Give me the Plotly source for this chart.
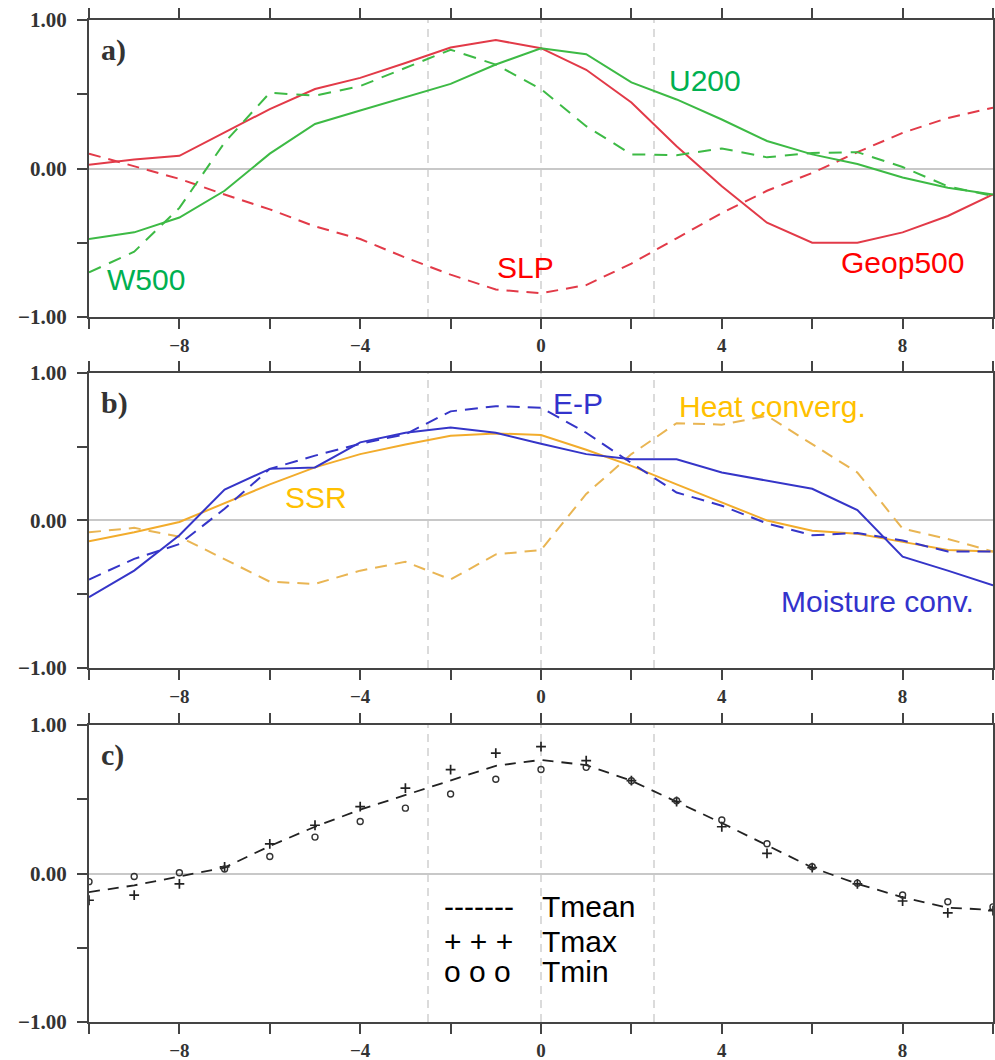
import plotly.graph_objects as go
from plotly.subplots import make_subplots

days = list(range(-10, 11))

# Panel a
geop500 = [0.025, 0.06, 0.085, 0.245, 0.40, 0.535, 0.61, 0.71, 0.815, 0.865, 0.81,
           0.665, 0.445, 0.15, -0.12, -0.365, -0.50, -0.50, -0.43, -0.32, -0.175]
slp = [0.10, 0.015, -0.07, -0.175, -0.275, -0.39, -0.475, -0.60, -0.715, -0.815, -0.84,
       -0.785, -0.64, -0.47, -0.30, -0.15, -0.03, 0.11, 0.24, 0.34, 0.41]
u200 = [-0.475, -0.43, -0.33, -0.15, 0.10, 0.30, 0.39, 0.48, 0.57, 0.70, 0.81,
        0.77, 0.58, 0.465, 0.33, 0.185, 0.095, 0.03, -0.06, -0.13, -0.175]
w500 = [-0.70, -0.56, -0.265, 0.175, 0.51, 0.49, 0.555, 0.68, 0.80, 0.70, 0.535,
        0.285, 0.095, 0.09, 0.135, 0.075, 0.105, 0.11, 0.01, -0.12, -0.185]

# Panel b
moist_conv = [-0.52, -0.34, -0.10, 0.21, 0.35, 0.36, 0.53, 0.595, 0.63, 0.595, 0.52,
              0.45, 0.415, 0.415, 0.325, 0.27, 0.215, 0.07, -0.245, -0.34, -0.44]
e_p = [-0.40, -0.26, -0.16, 0.08, 0.35, 0.44, 0.52, 0.585, 0.74, 0.775, 0.765,
       0.595, 0.39, 0.19, 0.10, -0.02, -0.10, -0.085, -0.135, -0.21, -0.21]
ssr = [-0.14, -0.08, -0.01, 0.12, 0.245, 0.36, 0.45, 0.515, 0.575, 0.59, 0.58,
       0.48, 0.37, 0.245, 0.125, 0.0, -0.07, -0.09, -0.145, -0.20, -0.21]
heat_conv = [-0.08, -0.05, -0.11, -0.26, -0.415, -0.43, -0.34, -0.28, -0.40, -0.23, -0.20,
             0.18, 0.45, 0.66, 0.65, 0.71, 0.52, 0.325, -0.055, -0.125, -0.21]

# Panel c
tmean = [-0.125, -0.08, -0.02, 0.04, 0.185, 0.315, 0.43, 0.53, 0.63, 0.725, 0.765,
         0.73, 0.625, 0.485, 0.34, 0.19, 0.04, -0.07, -0.16, -0.23, -0.245]
tmax = [-0.18, -0.145, -0.07, 0.045, 0.20, 0.325, 0.45, 0.575, 0.70, 0.81, 0.855,
        0.76, 0.625, 0.485, 0.315, 0.135, 0.04, -0.07, -0.185, -0.265, -0.25]
tmin = [-0.055, -0.02, 0.005, 0.03, 0.115, 0.245, 0.35, 0.44, 0.535, 0.635, 0.70,
        0.715, 0.625, 0.49, 0.36, 0.20, 0.045, -0.065, -0.145, -0.19, -0.225]

ref_days = [-2.5, 0, 2.5]
x_tickvals = list(range(-10, 11, 2))
x_ticktext = ["", "\u22128", "", "\u22124", "", "0", "", "4", "", "8", ""]
y_tickvals = [-1, -0.5, 0, 0.5, 1]
y_ticktext = ["\u22121.00", "", "0.00", "", "1.00"]

RED = "#e23a48"
GREEN = "#3dba45"
BLUE = "#3535c8"
ORANGE = "#f2ac2c"
ORANGE_D = "#e9b553"
INK = "#222222"

fig = make_subplots(rows=3, cols=1)

def line(x, y, color, dash, row, width=2):
    fig.add_trace(go.Scatter(x=x, y=y, mode="lines",
                             line=dict(color=color, width=width, dash=dash),
                             showlegend=False), row=row, col=1)

line(days, geop500, RED, "solid", 1)
line(days, slp, RED, "12px,8px", 1)
line(days, u200, GREEN, "solid", 1)
line(days, w500, GREEN, "13px,9px", 1)

line(days, ssr, ORANGE, "solid", 2)
line(days, heat_conv, ORANGE_D, "12px,8px", 2)
line(days, e_p, BLUE, "13px,8px", 2)
line(days, moist_conv, BLUE, "solid", 2)

line(days, tmean, INK, "11px,8px", 3, width=1.8)
fig.add_trace(go.Scatter(x=days, y=tmax, mode="markers",
                         marker=dict(symbol="cross-thin-open", size=7, color=INK,
                                     line=dict(color=INK, width=1.7)),
                         showlegend=False), row=3, col=1)
fig.add_trace(go.Scatter(x=days, y=tmin, mode="markers",
                         marker=dict(symbol="circle-open", size=6, color="#333333",
                                     line=dict(color="#333333", width=1.4)),
                         showlegend=False), row=3, col=1)

domains = [[0.7036, 1.0], [0.3533, 0.6477], [0.0, 0.2964]]
ytickfont = dict(family="Liberation Serif", size=21, color="#333333", weight="bold")
xtickfont = dict(family="Liberation Serif", size=19, color="#333333", weight="bold")
for i, dom in enumerate(domains, start=1):
    fig.update_xaxes(range=[-10, 10], tickvals=x_tickvals, ticktext=x_ticktext,
                     ticks="outside", ticklen=10, tickwidth=2, tickcolor="#444444",
                     showline=True, linecolor="#444444", linewidth=2, mirror="ticks",
                     showgrid=False, zeroline=False, tickfont=xtickfont,
                     ticklabelstandoff=0, automargin=False, row=i, col=1)
    fig.update_yaxes(range=[-1, 1], domain=dom, tickvals=y_tickvals, ticktext=y_ticktext,
                     ticks="outside", ticklen=10, tickwidth=2, tickcolor="#444444",
                     showline=True, linecolor="#444444", linewidth=2, mirror="ticks",
                     showgrid=False, zeroline=True, zerolinecolor="#c8c8c8",
                     zerolinewidth=1.5, tickfont=ytickfont, ticklabelstandoff=6,
                     automargin=False, row=i, col=1)
    xr = "x" if i == 1 else f"x{i}"
    yr = "y" if i == 1 else f"y{i}"
    for d in ref_days:
        fig.add_shape(type="line", xref=xr, yref=f"{yr} domain", x0=d, x1=d, y0=0, y1=1,
                      line=dict(color="#d0d0d0", width=1.5, dash="8px,6px"), layer="below")
    fig.add_annotation(xref=f"{xr} domain", yref=f"{yr} domain", x=0.011, y=0.90,
                       text="abc"[i - 1] + ")", showarrow=False, xanchor="left",
                       yanchor="middle",
                       font=dict(family="Liberation Serif", size=30, color="#333333",
                                 weight="bold"))

LBL = "Liberation Sans"

def label(text, x, y, color, row, xanchor="center"):
    xr = "x" if row == 1 else f"x{row}"
    yr = "y" if row == 1 else f"y{row}"
    fig.add_annotation(xref=xr, yref=yr, x=x, y=y, text=text, showarrow=False,
                       xanchor=xanchor, yanchor="middle",
                       font=dict(family=LBL, size=30, color=color))

label("U200", 3.63, 0.59, "#00b050", 1)
label("W500", -8.74, -0.75, "#00b050", 1)
label("SLP", -0.35, -0.67, "#ff0000", 1)
label("Geop500", 8.0, -0.63, "#ff0000", 1)

label("E-P", 0.81, 0.79, "#3333cc", 2)
label("Heat converg.", 5.13, 0.77, "#ffc000", 2)
label("SSR", -4.98, 0.153, "#ffc000", 2)
label("Moisture conv.", 7.45, -0.55, "#3333cc", 2)

label("-------", -2.2, -0.22, "#000000", 3, xanchor="left")
label("+ + +", -2.2, -0.457, "#000000", 3, xanchor="left")
label("o o o", -2.2, -0.66, "#000000", 3, xanchor="left")
label("Tmean", -0.03, -0.22, "#000000", 3, xanchor="left")
label("Tmax", -0.03, -0.457, "#000000", 3, xanchor="left")
label("Tmin", -0.03, -0.66, "#000000", 3, xanchor="left")

fig.update_layout(width=995, height=1060, margin=dict(l=89, r=2, t=20, b=38),
                  plot_bgcolor="white", paper_bgcolor="white", showlegend=False)

fig.write_html("out.html")
